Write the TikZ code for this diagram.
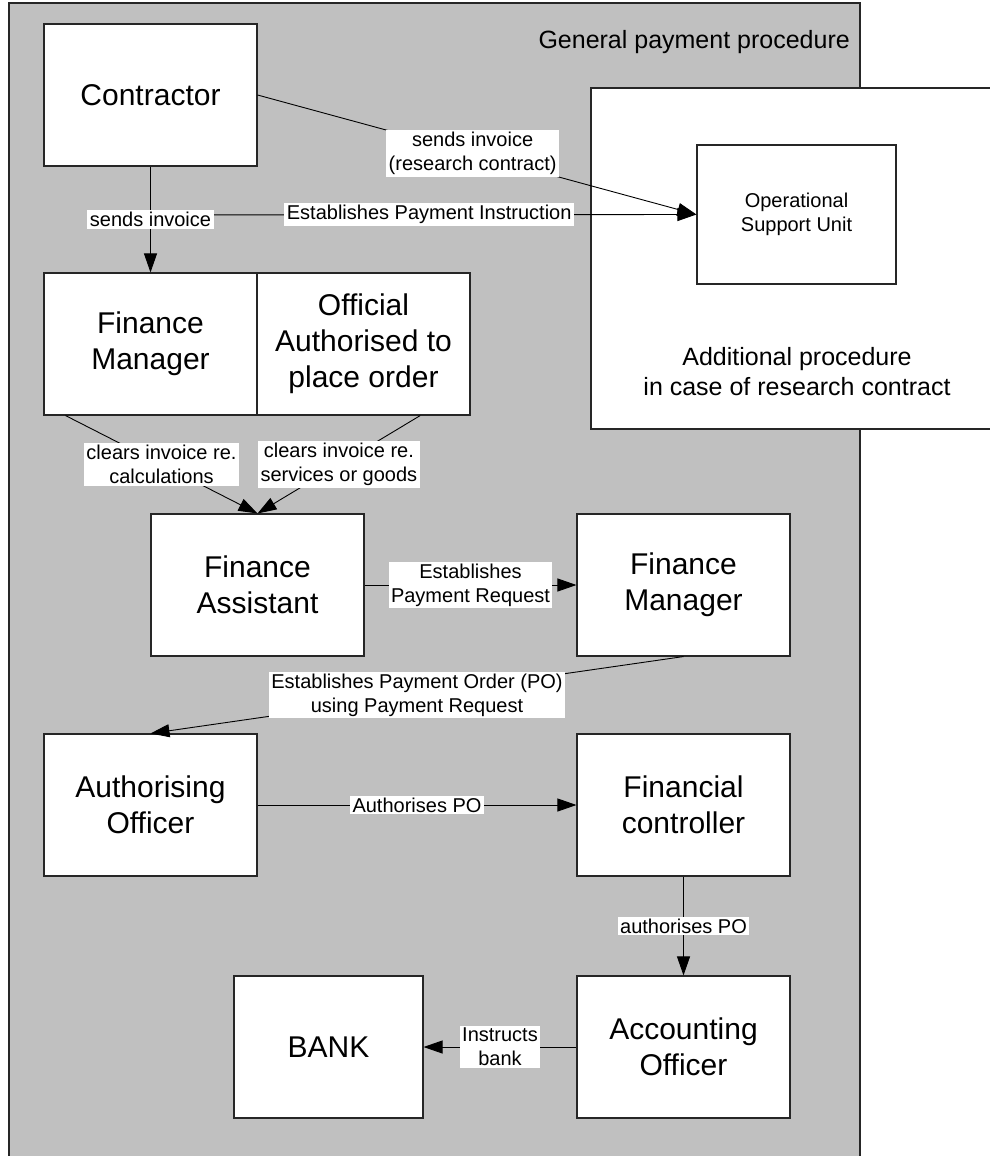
\documentclass[tikz,border=0pt]{standalone}
\usepackage{fontspec}
\setmainfont{Liberation Sans}
\usetikzlibrary{arrows.meta,calc}
\definecolor{bggray}{HTML}{C0C0C0}
\tikzset{
  box/.style={draw=black!85, line width=1.1pt, fill=white, minimum width=213pt, minimum height=142pt,
    inner sep=0pt, align=center, font=\fontsize{30}{36}\selectfont},
  lab/.style={fill=white, inner xsep=2.5pt, inner ysep=2pt, align=center, font=\fontsize{20}{24}\selectfont},
  conn/.style={draw=black, line width=0.9pt},
  arr/.style={conn, -{Triangle[length=19pt,width=13pt]}},
  title/.style={inner sep=0pt, align=center, font=\fontsize{25}{30}\selectfont}
}
\begin{document}
\begin{tikzpicture}[x=1pt,y=-1pt]
\useasboundingbox (0,0) rectangle (990,1156);
% background areas
\draw[fill=bggray, draw=black!85, line width=1.3pt] (9,3) rectangle (860,1170);
\draw[fill=white, draw=black!85, line width=1.1pt] (591,88) rectangle (1005,429);
\node[title, anchor=east] (gen) at (850,42) {General payment procedure};
\node[title] (addl) at (797,372) {Additional procedure\\ in case of research contract};
% nodes
\node[box] (con) at (150.5,95) {Contractor};
\node[box] (fm1) at (150.5,344) {Finance\\Manager};
\node[box] (off) at (363.5,344) {Official\\Authorised to\\place order};
\node[box] (fa) at (257.5,585) {Finance\\Assistant};
\node[box] (fm2) at (683.5,585) {Finance\\Manager};
\node[box] (ao) at (150.5,805) {Authorising\\Officer};
\node[box] (fc) at (683.5,805) {Financial\\controller};
\node[box, minimum width=189pt] (bank) at (328.5,1047) {BANK};
\node[box] (aco) at (683.5,1047) {Accounting\\Officer};
\node[box, minimum width=199pt, minimum height=139pt, font=\fontsize{20}{24}\selectfont] (osu) at (796.5,214.5) {Operational\\Support Unit};
% connectors
\coordinate (j) at (151,215);
\draw[arr] (j) -- node[lab, pos=0.51] {Establishes Payment Instruction} (osu.west);
\draw[arr] (con.south) -- node[lab] {sends invoice} (fm1.north);
\draw[arr] (con.east) -- node[lab, pos=0.49] {sends invoice\\(research contract)} (osu.west);
\draw[arr] ($(fm1.south west)!0.103!(fm1.south east)$) -- node[lab] {clears invoice re.\\calculations} (fa.north);
\draw[arr] ($(off.south west)!0.765!(off.south east)$) -- node[lab] {clears invoice re.\\services or goods} (fa.north);
\draw[arr] (fa.east) -- node[lab] {Establishes\\Payment Request} (fm2.west);
\draw[arr] (fm2.south) -- node[lab] {Establishes Payment Order (PO)\\using Payment Request} (ao.north);
\draw[arr] (ao.east) -- node[lab] {Authorises PO} (fc.west);
\draw[arr] (fc.south) -- node[lab] {authorises PO} (aco.north);
\draw[arr] (aco.west) -- node[lab] {Instructs\\bank} (bank.east);
\end{tikzpicture}
\end{document}
